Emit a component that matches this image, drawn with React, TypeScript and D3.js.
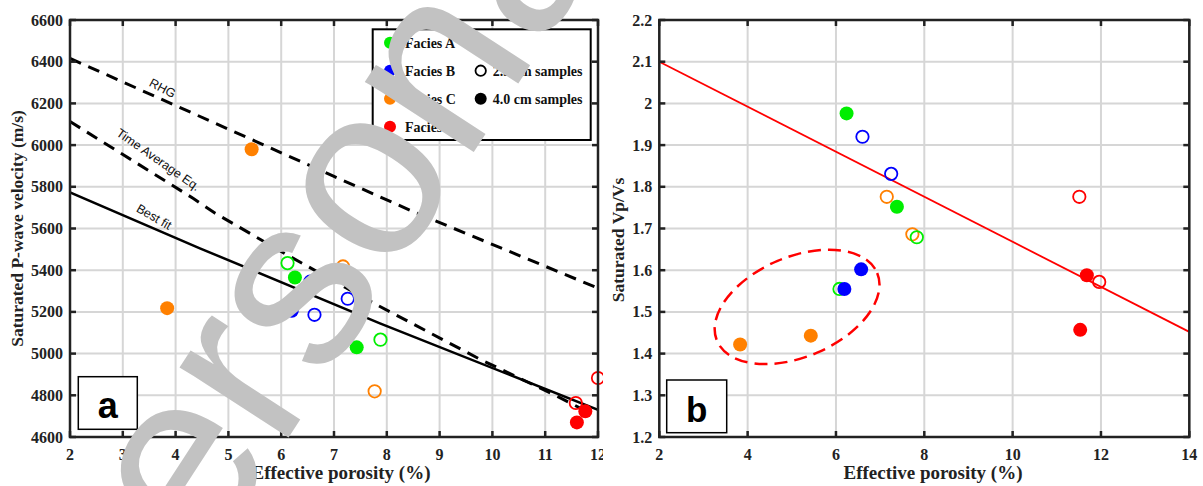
import React from "react";
import * as d3 from "d3";

// ---------- Data ----------
const faciesNames = ["Facies A", "Facies B", "Facies C", "Facies D"];
const faciesColors = ["#00ee00", "#0000ff", "#ff8000", "#ff0000"];
const sampleNames = ["2.5 cm samples", "4.0 cm samples"];

// Panel a: porosity (%), Vp (m/s), facies index, sample (0 = 2.5 cm open, 1 = 4.0 cm filled)
const aPhi = [5.44, 3.84, 6.12, 6.26, 7.17, 6.55, 6.2, 6.63, 7.26, 7.43, 7.88, 7.77, 11.58, 11.76, 11.6, 12.0];
const aVp = [5980, 5218, 5434, 5365, 5418, 5345, 5205, 5186, 5263, 5030, 5067, 4819, 4763, 4723, 4670, 4883];
const aFacies = [2, 2, 0, 0, 2, 1, 1, 1, 1, 0, 0, 2, 3, 3, 3, 3];
const aSample = [1, 1, 0, 1, 0, 0, 1, 0, 0, 1, 0, 0, 0, 1, 1, 0];

// Panel b: porosity (%), Vp/Vs
const bPhi = [6.24, 6.6, 7.25, 7.15, 7.38, 7.73, 7.83, 11.51, 11.68, 11.96, 11.53, 3.83, 5.43, 6.08, 6.19, 6.57];
const bRatio = [1.976, 1.92, 1.831, 1.776, 1.752, 1.686, 1.679, 1.776, 1.588, 1.572, 1.457, 1.422, 1.443, 1.555, 1.555, 1.602];
const bFacies = [0, 1, 1, 2, 0, 2, 0, 3, 3, 3, 3, 2, 2, 0, 1, 1];
const bSample = [1, 0, 0, 0, 1, 0, 0, 0, 1, 0, 1, 1, 1, 0, 1, 1];

// Model lines, panel a
const rhgPhi = [2, 7, 8.5, 12];
const rhgVp = [6416, 5850, 5681, 5314];
const taPhi = [2, 4.33, 4.75, 6.17, 7.81, 9.78, 11.23, 11.75];
const taVp = [6113, 5745, 5673, 5465, 5234, 4971, 4795, 4727];
const fitPhi = [2, 4.46, 7.87, 12];
const fitVp = [5773, 5505, 5145, 4730];
const lineLabels = ["RHG", "Time Average Eq.", "Best fit"];
const lineLabelPhi = [3.75, 3.67, 3.59];
const lineLabelVp = [6272, 5929, 5655];

// Trend line, panel b
const trendPhi = [2, 14];
const trendRatio = [2.1, 1.452];
// Ellipse (group of 4.0 cm outliers), centre
const ellipsePhi = 5.12;
const ellipseRatio = 1.512;

// Axes
const aXTicks = d3.range(2, 13, 1);
const aYTicks = d3.range(4600, 6601, 200);
const bXTicks = d3.range(2, 15, 2);
const bYTicks = [1.2, 1.3, 1.4, 1.5, 1.6, 1.7, 1.8, 1.9, 2.0, 2.1, 2.2];

// ---------- Layout ----------
const W = 1203;
const H = 486;
const TOP = 20;
const BOTTOM = 437;
const xa = d3.scaleLinear().domain([2, 12]).range([70, 598]);
const ya = d3.scaleLinear().domain([4600, 6600]).range([BOTTOM, TOP]);
const xb = d3.scaleLinear().domain([2, 14]).range([659.3, 1189.3]);
const yb = d3.scaleLinear().domain([1.2, 2.2]).range([BOTTOM, TOP]);

const SERIF = "'Liberation Serif', 'Times New Roman', serif";
const SANS = "'Liberation Sans', Arial, sans-serif";
const AXIS = "#222";
const GRID = "#d6d6d6";
const fmt = d3.format("~g");

function Frame({ x, y, xTicks, yTicks }: any) {
  const [x0, x1] = x.range();
  const [y0, y1] = y.range();
  const tl = 6;
  return (
    <g>
      {xTicks.map((t: number) => (
        <line key={"gx" + t} x1={x(t)} x2={x(t)} y1={y1} y2={y0} stroke={GRID} strokeWidth={2} />
      ))}
      {yTicks.map((t: number) => (
        <line key={"gy" + t} x1={x0} x2={x1} y1={y(t)} y2={y(t)} stroke={GRID} strokeWidth={2} />
      ))}
    </g>
  );
}

function FrameTop({ x, y, xTicks, yTicks }: any) {
  const [x0, x1] = x.range();
  const [y0, y1] = y.range();
  const tl = 6;
  return (
    <g>
      {xTicks.map((t: number) => (
        <g key={"tx" + t}>
          <line x1={x(t)} x2={x(t)} y1={y0} y2={y0 - tl} stroke={AXIS} strokeWidth={2.5} />
          <line x1={x(t)} x2={x(t)} y1={y1} y2={y1 + tl} stroke={AXIS} strokeWidth={2.5} />
          <text x={x(t)} y={460} textAnchor="middle" fontFamily={SERIF} fontWeight="bold" fontSize={16} fill={AXIS}>
            {fmt(t)}
          </text>
        </g>
      ))}
      {yTicks.map((t: number) => (
        <g key={"ty" + t}>
          <line x1={x0} x2={x0 + tl} y1={y(t)} y2={y(t)} stroke={AXIS} strokeWidth={2.5} />
          <line x1={x1} x2={x1 - tl} y1={y(t)} y2={y(t)} stroke={AXIS} strokeWidth={2.5} />
          <text x={x0 - 7} y={y(t) + 5.5} textAnchor="end" fontFamily={SERIF} fontWeight="bold" fontSize={16} fill={AXIS}>
            {fmt(t)}
          </text>
        </g>
      ))}
      <rect x={x0} y={y1} width={x1 - x0} height={y0 - y1} fill="none" stroke={AXIS} strokeWidth={2.5} />
    </g>
  );
}

function Marker({ cx, cy, color, filled }: any) {
  return filled ? (
    <circle cx={cx} cy={cy} r={7} fill={color} />
  ) : (
    <circle cx={cx} cy={cy} r={6.2} fill="none" stroke={color} strokeWidth={1.8} />
  );
}

export default function App() {
  const lineA = d3.line<number>().x((_, i) => 0).y(() => 0);
  const mk = (px: number[], py: number[], sx: any, sy: any) =>
    d3.line<number>().x((d) => sx(px[d])).y((d) => sy(py[d]))(d3.range(px.length)) || "";

  const rhgPath = mk(rhgPhi, rhgVp, xa, ya);
  const taPath = mk(taPhi, taVp, xa, ya);
  const fitPath = mk(fitPhi, fitVp, xa, ya);
  const trendPath = mk(trendPhi, trendRatio, xb, yb);
  const labelAngles = [28, 35, 30];

  return (
    <svg width={W} height={H} style={{ position: "absolute", left: 0, top: 0, background: "#fff" }}>
      <defs>
        <clipPath id="clipA">
          <rect x={0} y={0} width={603} height={H} />
        </clipPath>
        <clipPath id="plotA">
          <rect x={70} y={TOP} width={528} height={BOTTOM - TOP} />
        </clipPath>
      </defs>
      <rect x={0} y={0} width={W} height={H} fill="#fff" />

      {/* ---------- Panel a ---------- */}
      <g clipPath="url(#clipA)">
        <Frame x={xa} y={ya} xTicks={aXTicks} yTicks={aYTicks} />
        <g clipPath="url(#plotA)">
          <path d={rhgPath} fill="none" stroke="#000" strokeWidth={3} strokeDasharray="12,8" />
          <path d={taPath} fill="none" stroke="#000" strokeWidth={3} strokeDasharray="12,8" />
          <path d={fitPath} fill="none" stroke="#000" strokeWidth={2.5} />
        </g>
        {lineLabels.map((l, i) => (
          <text
            key={l}
            transform={`translate(${xa(lineLabelPhi[i])},${ya(lineLabelVp[i])}) rotate(${labelAngles[i]})`}
            textAnchor="middle"
            dominantBaseline="central"
            fontFamily={SANS}
            fontSize={12.5}
            fill="#111"
          >
            {l}
          </text>
        ))}
        {aPhi.map((p, i) => (
          <Marker
            key={"a" + i}
            cx={xa(p)}
            cy={ya(aVp[i])}
            color={faciesColors[aFacies[i]]}
            filled={aSample[i] === 1}
          />
        ))}
        <FrameTop x={xa} y={ya} xTicks={aXTicks} yTicks={aYTicks} />

        {/* legend */}
        <rect x={372.7} y={29.3} width={218} height={110.7} fill="#fff" stroke="#000" strokeWidth={2} />
        {faciesNames.map((n, i) => (
          <g key={n}>
            <circle cx={390} cy={42.7 + i * 28} r={6} fill={faciesColors[i]} />
            <text x={405} y={47.7 + i * 28} fontFamily={SERIF} fontWeight="bold" fontSize={14} fill="#111">
              {n}
            </text>
          </g>
        ))}
        {sampleNames.map((n, i) => (
          <g key={n}>
            {i === 0 ? (
              <circle cx={480.7} cy={70.7} r={5.2} fill="none" stroke="#000" strokeWidth={1.8} />
            ) : (
              <circle cx={480.7} cy={98.7} r={6} fill="#000" />
            )}
            <text x={492.7} y={75.7 + i * 28} fontFamily={SERIF} fontWeight="bold" fontSize={14} fill="#111">
              {n}
            </text>
          </g>
        ))}

        {/* panel label */}
        <rect x={78.3} y={376.7} width={59} height={52.6} fill="#fff" stroke="#000" strokeWidth={1.5} />
        <text x={107.8} y={418.3} textAnchor="middle" fontFamily={SANS} fontWeight="bold" fontSize={36} fill="#000">
          a
        </text>

        {/* axis titles */}
        <text x={341} y={479} textAnchor="middle" fontFamily={SERIF} fontWeight="bold" fontSize={19} fill={AXIS}>
          Effective porosity (%)
        </text>
        <text
          transform={`translate(23,228.5) rotate(-90)`}
          textAnchor="middle"
          fontFamily={SERIF}
          fontWeight="bold"
          fontSize={17.5}
          fill={AXIS}
        >
          Saturated P-wave velocity (m/s)
        </text>
      </g>

      {/* ---------- Panel b ---------- */}
      <g>
        <Frame x={xb} y={yb} xTicks={bXTicks} yTicks={bYTicks} />
        <path d={trendPath} fill="none" stroke="#ff0000" strokeWidth={1.8} />
        <ellipse
          cx={0}
          cy={0}
          rx={87}
          ry={50}
          transform={`translate(${xb(ellipsePhi)},${yb(ellipseRatio)}) rotate(-23)`}
          fill="none"
          stroke="#ff0000"
          strokeWidth={2.5}
          strokeDasharray="13,7"
        />
        {bPhi.map((p, i) => (
          <Marker
            key={"b" + i}
            cx={xb(p)}
            cy={yb(bRatio[i])}
            color={faciesColors[bFacies[i]]}
            filled={bSample[i] === 1}
          />
        ))}
        <FrameTop x={xb} y={yb} xTicks={bXTicks} yTicks={bYTicks} />
        <rect x={666.7} y={380} width={60} height={52.7} fill="#fff" stroke="#000" strokeWidth={1.5} />
        <text x={696.7} y={421.7} textAnchor="middle" fontFamily={SANS} fontWeight="bold" fontSize={35} fill="#000">
          b
        </text>
        <text x={933} y={479} textAnchor="middle" fontFamily={SERIF} fontWeight="bold" fontSize={19} fill={AXIS}>
          Effective porosity (%)
        </text>
        <text
          transform={`translate(624,240) rotate(-90)`}
          textAnchor="middle"
          fontFamily={SERIF}
          fontWeight="bold"
          fontSize={17.5}
          fill={AXIS}
        >
          Saturated Vp/Vs
        </text>
      </g>

      {/* watermark */}
      <text
        transform="translate(116,703) rotate(-57)"
        fontFamily={SANS}
        fontSize={245}
        fill="#c2c2c2"
      >
        Personal
      </text>
    </svg>
  );
}
